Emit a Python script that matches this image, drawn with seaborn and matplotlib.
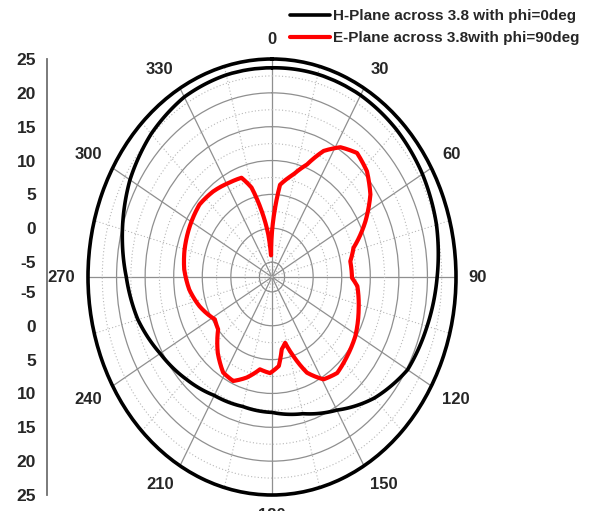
import numpy as np
import pandas as pd
import matplotlib
matplotlib.use("Agg")
import matplotlib.pyplot as plt
import seaborn as sns

# H-plane cut (phi = 0 deg): angle in degrees, gain in dB
h_angle = [0, 15, 30, 45, 60, 75, 90, 105, 120, 135, 150, 165, 180,
           195, 210, 225, 240, 255, 270, 285, 300, 315, 330, 345, 360]
h_gain = [23.7, 23.8, 23.8, 23.6, 23.2, 22.6, 21.7, 20.9, 20.2, 18.1, 15.5, 13.7, 12.8,
          12.6, 13.0, 14.1, 15.4, 17.1, 18.3, 19.9, 21.5, 22.7, 23.5, 23.7, 23.7]

# E-plane cut (phi = 90 deg)
e_angle = [3.0, 5.9, 13.9, 20.2, 25.9, 32.0, 39.1, 46.8, 54.7, 63.3, 73.2, 80.4,
           90.5, 95.2, 107.5, 120.9, 131.7, 141.2, 149.2, 156.6, 162.2, 166.7, 170.9,
           174.8, 181.4, 188.8, 196.6, 203.9, 211.2, 220.2, 230.6, 238.0, 251.2, 262.7,
           274.1, 284.0, 296.7, 310.2, 320.8, 332.0, 340.0, 344.8, 349.5, 354.1, 357.0, 363.0]
e_gain = [3.0, 6.5, 8.4, 10.5, 13.5, 15.4, 16.4, 15.6, 13.9, 11.1, 7.7, 6.7,
          6.8, 7.8, 8.7, 9.8, 10.4, 11.0, 10.4, 8.2, 5.1, 2.8, 3.6,
          6.0, 7.0, 6.6, 8.3, 9.6, 9.3, 7.5, 5.0, 4.6, 6.2, 7.4,
          8.2, 8.6, 9.0, 9.4, 9.1, 8.6, 8.4, 6.5, 2.7, -0.9, -4.0, 3.0]

series_names = ["H-Plane across 3.8 with phi=0deg", "E-Plane across 3.8with phi=90deg"]
series_colors = ["black", "red"]

angle_labels = ["0", "30", "60", "90", "120", "150", "180", "210", "240", "270", "300", "330"]
angle_ticks = [0, 30, 60, 90, 120, 150, 180, 210, 240, 270, 300, 330]
radial_ticks = [-5, 0, 5, 10, 15, 20, 25]
r_center = -7.2
r_outer = 25

sns.set_style("white")
plt.rcParams["font.family"] = ["Liberation Sans", "DejaVu Sans"]
plt.rcParams["font.weight"] = "bold"

W, H = 592, 511
fig = plt.figure(figsize=(W / 100, H / 100), dpi=100)

# polar area (stretched into an ellipse like the original plot frame)
ax = fig.add_axes([88 / W, 16 / H, 368 / W, 436 / H], projection="polar")
ax.set_aspect("auto")
ax.set_theta_zero_location("N")
ax.set_theta_direction(-1)

df_h = pd.DataFrame({"theta": np.radians(h_angle), "gain": h_gain})
df_e = pd.DataFrame({"theta": np.radians(e_angle), "gain": e_gain})

sns.lineplot(data=df_h, x="theta", y="gain", ax=ax, sort=False, estimator=None,
             color=series_colors[0], linewidth=2.6, label=series_names[0])
sns.lineplot(data=df_e, x="theta", y="gain", ax=ax, sort=False, estimator=None,
             color=series_colors[1], linewidth=3.0, label=series_names[1])
for ln in ax.lines:
    ln.set_solid_joinstyle("round")
    ln.set_solid_capstyle("round")
    # draw each segment along the polar grid (arcs) rather than as straight chords
    ln.get_path()._interpolation_steps = 24

ax.set_rlim(r_center, r_outer)
ax.set_xlabel("")
ax.set_ylabel("")

# grid: solid major rings/spokes, dotted minor ones
ax.set_yticks(radial_ticks[:-1])
ax.set_yticks([v + 2.5 for v in radial_ticks[:-1]], minor=True)
ax.set_yticklabels([])
ax.set_xticks(np.radians(angle_ticks))
ax.set_xticklabels([""] * len(angle_ticks))
ax.set_xticks(np.radians([a + 15 for a in angle_ticks]), minor=True)
ax.grid(True, which="major", color="#8f8f8f", linewidth=0.9, linestyle="-")
ax.grid(True, which="minor", color="#b8b8b8", linewidth=0.8, linestyle=(0, (1, 2)))
ax.tick_params(axis="x", which="major", direction="in", length=6, width=1.6, color="black")
ax.tick_params(axis="x", which="minor", direction="in", length=3, width=1.4, color="black")
ax.tick_params(axis="y", which="both", length=0)
ax.spines["polar"].set_linewidth(2.6)
ax.spines["polar"].set_color("black")

# angle labels just outside the outer ring
for ang, lab in zip(angle_ticks, angle_labels):
    s, c = np.sin(np.radians(ang)), np.cos(np.radians(ang))
    ha = "left" if s > 0.3 else ("right" if s < -0.3 else "center")
    va = "bottom" if c > 0.3 else ("top" if c < -0.3 else "center")
    ax.annotate(lab, xy=(np.radians(ang), r_outer), xycoords="data",
                xytext=(9 * s, 9 * c), textcoords="offset points",
                ha=ha, va=va, fontsize=12, fontweight="bold", annotation_clip=False)

# mirrored radial scale on the left
lax = fig.add_axes([47 / W, 16 / H, 0.0001, 436 / H])
span = r_outer - r_center
lax.set_ylim(-span, span)
lax.set_xlim(0, 1)
pos = [v - r_center for v in radial_ticks]
lax.set_yticks([-p for p in pos] + pos)
lax.set_yticklabels([str(v) for v in radial_ticks] + [str(v) for v in radial_ticks])
minor_pos = [v + 2.5 - r_center for v in radial_ticks[:-1]]
lax.set_yticks([-p for p in minor_pos] + minor_pos, minor=True)
lax.set_xticks([])
for side in ["top", "right", "bottom"]:
    lax.spines[side].set_visible(False)
lax.spines["left"].set_color("#707070")
lax.spines["left"].set_linewidth(1.3)
lax.tick_params(axis="y", which="major", direction="out", length=6, width=1.2,
                color="#707070", pad=2, labelsize=12.5)
lax.tick_params(axis="y", which="minor", direction="out", length=3, width=1.2, color="#707070")
for t in lax.get_yticklabels():
    t.set_fontweight("bold")
lax.patch.set_visible(False)

# legend in the top right corner
if ax.get_legend() is not None:
    ax.get_legend().remove()
handles = ax.lines[:2]
fig.legend(handles, series_names, loc="upper left", bbox_to_anchor=(290 / W, 1 - 9 / H),
           frameon=False, prop={"family": "Liberation Sans", "weight": "bold", "size": 11},
           handlelength=2.6, handletextpad=0.2, labelspacing=0.55, borderaxespad=0,
           borderpad=0)

fig.savefig("out.png", dpi=100)
